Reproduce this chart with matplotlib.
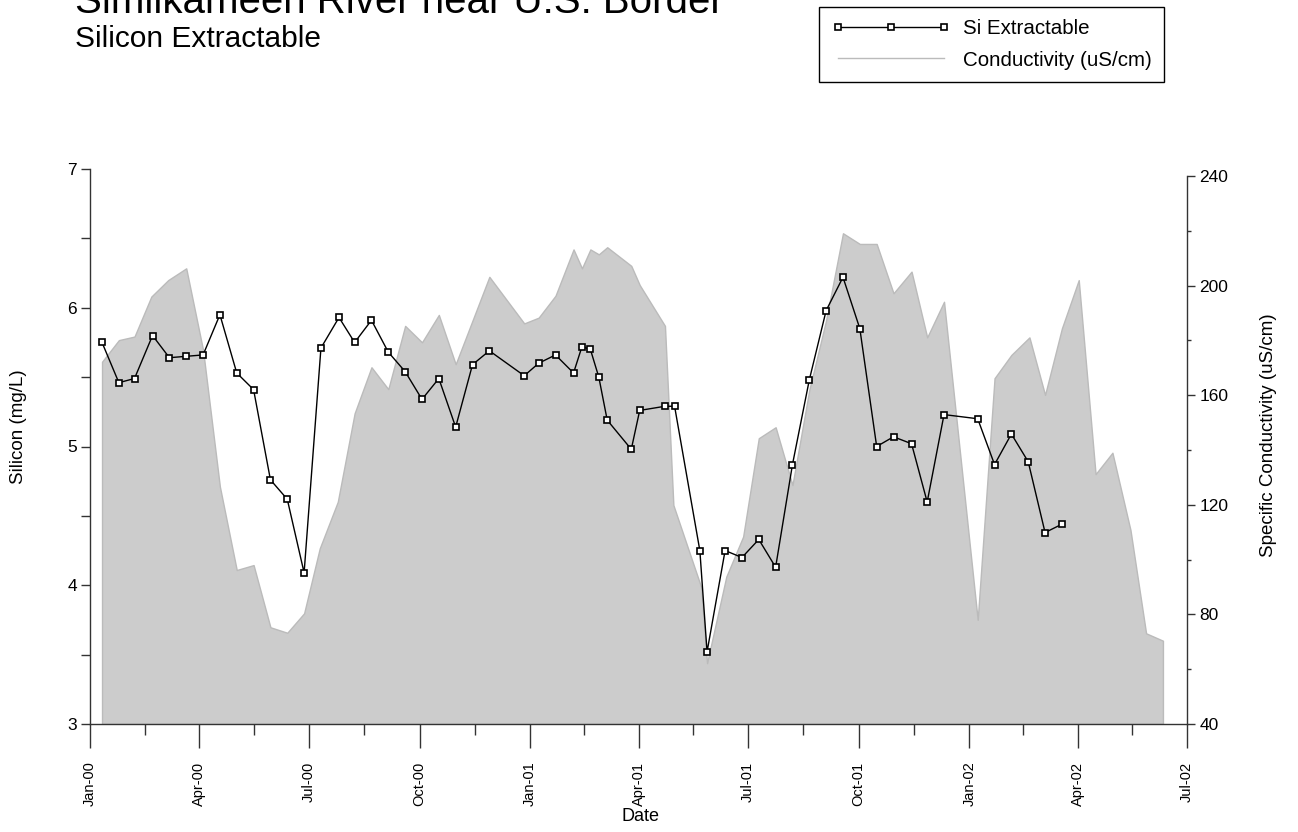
import numpy as np
import pandas as pd
import matplotlib
matplotlib.use("Agg")
import matplotlib.pyplot as plt
import matplotlib.dates as mdates
from matplotlib.lines import Line2D

plt.rcParams['font.family'] = ['Liberation Sans', 'DejaVu Sans']

title = "Similkameen River near U.S. Border"
subtitle = "Silicon Extractable"

# specific conductivity (uS/cm), grey area on the right axis
cond_dates = ["2000-01-11", "2000-01-25", "2000-02-07", "2000-02-21", "2000-03-06",
              "2000-03-21", "2000-04-04", "2000-04-18", "2000-05-02", "2000-05-16",
              "2000-05-30", "2000-06-13", "2000-06-27", "2000-07-10", "2000-07-25",
              "2000-08-08", "2000-08-22", "2000-09-05", "2000-09-19", "2000-10-03",
              "2000-10-17", "2000-10-31", "2000-11-28", "2000-12-27", "2001-01-08",
              "2001-01-22", "2001-02-06", "2001-02-13", "2001-02-20", "2001-02-27",
              "2001-03-06", "2001-03-26", "2001-04-02", "2001-04-23", "2001-04-30",
              "2001-05-23", "2001-05-28", "2001-06-13", "2001-06-27", "2001-07-10",
              "2001-07-24", "2001-08-07", "2001-08-21", "2001-09-04", "2001-09-18",
              "2001-10-02", "2001-10-16", "2001-10-30", "2001-11-14", "2001-11-27",
              "2001-12-11", "2002-01-08", "2002-01-22", "2002-02-05", "2002-02-20",
              "2002-03-05", "2002-03-19", "2002-04-02", "2002-04-16", "2002-04-30",
              "2002-05-15", "2002-05-28", "2002-06-11"]
cond_values = [172.2, 180.1, 181.4, 196.0, 202.0, 206.3, 176.5, 126.6, 96.2, 98.0,
               75.3, 73.3, 80.4, 104.1, 121.1, 153.4, 170.2, 162.2, 185.3, 179.3,
               189.3, 171.3, 203.2, 186.2, 188.3, 196.3, 213.2, 206.3, 213.2, 211.4,
               214.0, 207.2, 200.2, 185.3, 119.9, 90.1, 62.2, 93.8, 108.4, 144.3,
               148.3, 127.2, 161.9, 187.4, 219.1, 215.2, 215.2, 197.2, 205.1, 181.1,
               194.1, 78.0, 166.2, 174.7, 181.1, 160.1, 184.4, 202.0, 131.2, 139.0,
               110.8, 73.1, 70.4]

# extractable silicon (mg/L), left axis
si_dates = ["2000-01-11", "2000-01-25", "2000-02-07", "2000-02-22", "2000-03-07",
            "2000-03-21", "2000-04-04", "2000-04-18", "2000-05-02", "2000-05-16",
            "2000-05-30", "2000-06-13", "2000-06-27", "2000-07-11", "2000-07-26",
            "2000-08-08", "2000-08-22", "2000-09-05", "2000-09-19", "2000-10-03",
            "2000-10-17", "2000-10-31", "2000-11-14", "2000-11-28", "2000-12-27",
            "2001-01-08", "2001-01-22", "2001-02-06", "2001-02-13", "2001-02-20",
            "2001-02-27", "2001-03-06", "2001-03-26", "2001-04-02", "2001-04-23",
            "2001-05-01", "2001-05-22", "2001-05-28", "2001-06-12", "2001-06-26",
            "2001-07-10", "2001-07-24", "2001-08-07", "2001-08-21", "2001-09-04",
            "2001-09-18", "2001-10-02", "2001-10-16", "2001-10-30", "2001-11-14",
            "2001-11-27", "2001-12-11", "2002-01-08", "2002-01-22", "2002-02-05",
            "2002-02-19", "2002-03-05", "2002-03-19"]
si_values = [5.75, 5.46, 5.49, 5.80, 5.64, 5.65, 5.66, 5.95, 5.53, 5.41,
             4.76, 4.62, 4.09, 5.71, 5.93, 5.75, 5.91, 5.68, 5.54, 5.34,
             5.49, 5.14, 5.59, 5.69, 5.51, 5.60, 5.66, 5.53, 5.72, 5.70,
             5.50, 5.19, 4.98, 5.26, 5.29, 5.29, 4.25, 3.52, 4.25, 4.20,
             4.33, 4.13, 4.87, 5.48, 5.98, 6.22, 5.85, 5.00, 5.07, 5.02,
             4.60, 5.23, 5.20, 4.87, 5.09, 4.89, 4.38, 4.44]

quarters = pd.date_range("2000-01-01", "2002-07-01", freq="QS")

cond_dates = pd.to_datetime(cond_dates)
si_dates = pd.to_datetime(si_dates)

W, H = 1298, 832
fig = plt.figure(figsize=(W / 100, H / 100), dpi=100)
ax = fig.add_axes([90 / W, 108 / H, 1097 / W, 555 / H])
ax2 = ax.twinx()

spine_col = '#333333'

# conductivity area
ax2.fill_between(cond_dates, 40, cond_values, facecolor='#cccccc',
                 edgecolor='#bbbbbb', linewidth=1)
ax2.set_ylim(40, 40 + 555 / 2.74)
ax2.set_yticks(np.arange(40, 241, 40))
ax2.set_yticks(np.arange(40, 241, 20), minor=True)
ax2.spines['right'].set_bounds(40, 240)
ax2.set_ylabel('Specific Conductivity (uS/cm)', fontsize=13.5)
ax2.yaxis.set_label_coords(1.0665, 0.52)

# silicon line on top
ax.set_zorder(ax2.get_zorder() + 1)
ax.patch.set_visible(False)
ax.plot(si_dates, si_values, color='black', lw=1, marker='s', ms=5,
        mfc='white', mec='black', mew=1.2)
ax.set_ylim(3, 7)
ax.set_yticks([3, 4, 5, 6, 7])
ax.set_yticks(np.arange(3, 7.01, 0.5), minor=True)
ax.set_ylabel('Silicon (mg/L)', fontsize=13.5)
ax.yaxis.set_label_coords(-0.0575, 0.535)

ax.set_xlim(quarters[0], quarters[-1])
ax.set_xticks(quarters)
mids = quarters[:-1] + (quarters[1:] - quarters[:-1]) / 2
ax.set_xticks(mids, minor=True)
ax.xaxis.set_major_formatter(mdates.DateFormatter('%b-%y'))
ax.set_xlabel('Date', fontsize=13)
ax.xaxis.set_label_coords(0.502, -0.152)

for a in (ax, ax2):
    a.spines['top'].set_visible(False)
    for s in a.spines.values():
        s.set_color(spine_col)
        s.set_linewidth(1)

ax.spines['right'].set_visible(False)
ax2.spines['left'].set_visible(False)
ax2.spines['bottom'].set_visible(False)

ax.tick_params(axis='x', which='major', length=17, width=1, color=spine_col,
               labelsize=10.5, rotation=90, pad=10)
ax.tick_params(axis='x', which='minor', length=8, width=1, color=spine_col)
ax.tick_params(axis='y', which='both', length=6.5, width=1, color=spine_col,
               labelsize=12.5, pad=3)
ax2.tick_params(axis='y', which='major', length=6, width=1, color=spine_col,
                labelsize=12.5, pad=3)
ax2.tick_params(axis='y', which='minor', length=3, width=1, color=spine_col)

fig.text(75 / W, 1 - 13 / H, title, fontsize=29, va='baseline', ha='left')
fig.text(75 / W, 1 - 47 / H, subtitle, fontsize=21.5, va='baseline', ha='left')

h1 = Line2D([], [], color='black', lw=1, marker='s', ms=5, mfc='white',
            mec='black', mew=1.2)
h2 = Line2D([], [], color='#bbbbbb', lw=1)
leg = fig.legend([h1, h2], ['Si Extractable', 'Conductivity (uS/cm)'],
                 loc='upper left', bbox_to_anchor=(819 / W, 1 - 7 / H),
                 borderaxespad=0, fontsize=14.8, numpoints=3, handlelength=5.8,
                 handletextpad=0.6, labelspacing=0.6, borderpad=0.6,
                 fancybox=False, edgecolor='black', framealpha=1)
leg.get_frame().set_linewidth(1)

fig.savefig('out.png', dpi=100)
